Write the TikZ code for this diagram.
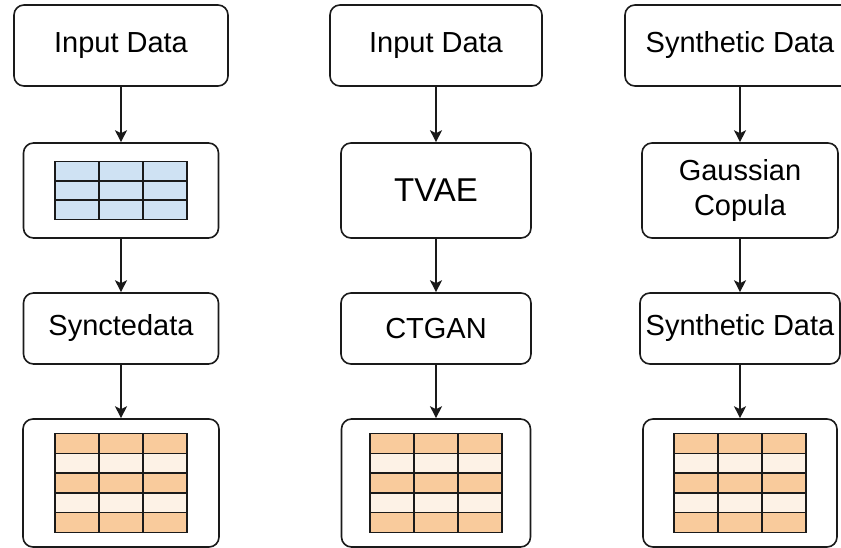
\documentclass[tikz,border=0pt]{standalone}
\usepackage{fontspec}
\setsansfont{Liberation Sans}
\usetikzlibrary{arrows.meta,positioning}

\definecolor{edgegray}{HTML}{1A1A1A}
\definecolor{cellblue}{HTML}{CFE2F3}
\definecolor{celldark}{HTML}{F9CB9C}
\definecolor{celllight}{HTML}{FDF2E6}

\begin{document}
\begin{tikzpicture}[x=1pt,y=1pt,>={Stealth[length=12pt,width=12pt,inset=3pt]},font=\sffamily\fontsize{29}{35}\selectfont,
 box/.style={draw=edgegray,line width=1.6pt,rounded corners=10pt,fill=white,inner sep=0pt,align=center},
 head/.style={box,minimum height=81},
 stage/.style={box,minimum height=95},
 model/.style={box,minimum height=71},
 tabbox/.style={box,minimum height=128},
 cell/.style={draw=edgegray,line width=1.5pt},
 flow/.style={->,draw=edgegray,line width=1.4pt}]
\useasboundingbox (0,0) rectangle (841,-548);

% three pipelines side by side
\node[head,minimum width=214] (inA) at (121,-45.5) {Input Data};
\node[stage,minimum width=195] (gridA) at (121,-190.5) {};
\node[model,minimum width=195] (syncA) at (121,-328.5) {Synctedata};
\node[tabbox,minimum width=196] (outA) at (121,-483) {};

\node[head,minimum width=212] (inB) at (436,-45.5) {Input Data};
\node[stage,minimum width=190,font=\sffamily\fontsize{33}{40}\selectfont] (tvae) at (436,-190.5) {TVAE};
\node[model,minimum width=190] (ctgan) at (436,-328.5) {CTGAN};
\node[tabbox,minimum width=189] (outB) at (436,-483) {};

\node[head,minimum width=230] (synC) at (740,-45.5) {Synthetic Data};
\node[stage,minimum width=196] (copula) at (740,-190.5) {Gaussian\\Copula};
\node[model,minimum width=200] (synD) at (740,-328.5) {Synthetic Data};
\node[tabbox,minimum width=194] (outC) at (740,-483) {};

% input grid
\begin{scope}[shift={(gridA.center)}]
\foreach \r in {0,1,2} {\foreach \c in {0,1,2} {\draw[cell,fill=cellblue] (-66+44*\c,29-19.33*\r) rectangle ++(44,-19.33);}}
\end{scope}

% generated tables, striped rows
\foreach \t in {outA,outB,outC} {
\begin{scope}[shift={(\t.center)}]
\foreach \r/\shade in {0/celldark,1/celllight,2/celldark,3/celllight,4/celldark} {
  \foreach \c in {0,1,2} {\draw[cell,fill=\shade] (-66+44*\c,49.5-19.8*\r) rectangle ++(44,-19.8);}}
\end{scope}}

\draw[flow] (inA.south)--(gridA.north);
\draw[flow] (gridA.south)--(syncA.north);
\draw[flow] (syncA.south)--(outA.north);
\draw[flow] (inB.south)--(tvae.north);
\draw[flow] (tvae.south)--(ctgan.north);
\draw[flow] (ctgan.south)--(outB.north);
\draw[flow] (synC.south)--(copula.north);
\draw[flow] (copula.south)--(synD.north);
\draw[flow] (synD.south)--(outC.north);
\end{tikzpicture}
\end{document}
